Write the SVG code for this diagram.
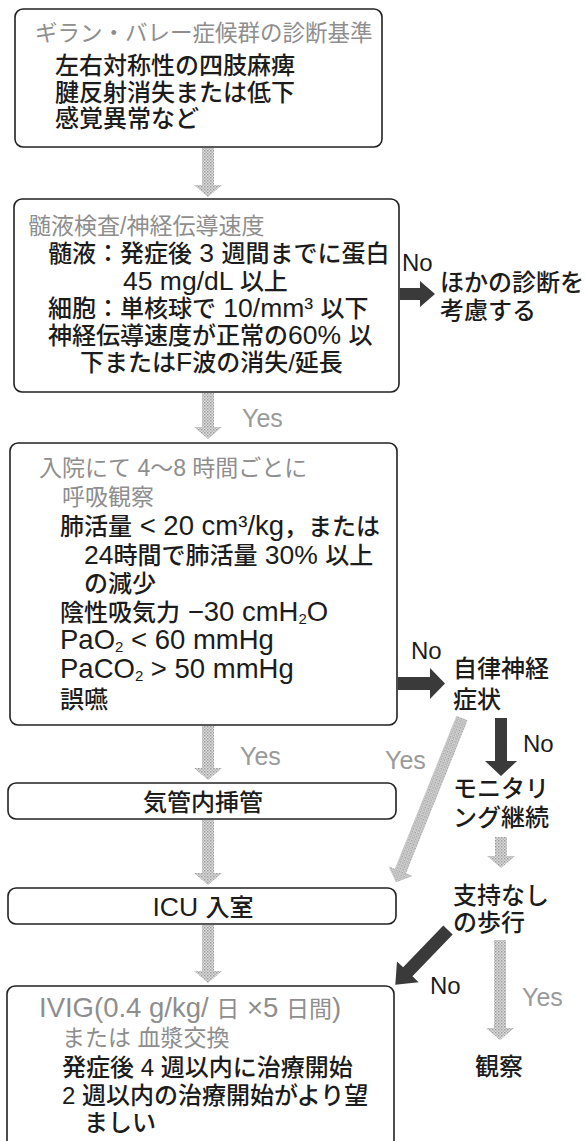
<svg xmlns="http://www.w3.org/2000/svg" width="586" height="1141" viewBox="0 0 586 1141">
<style>
text{font-family:"Liberation Sans","Noto Sans CJK JP",sans-serif;font-size:24px;fill:#1c1c1c;font-weight:500}
.t{fill:#8e8e8e;font-size:23px;font-weight:400}
.y{fill:#9a9a9a;font-family:"Liberation Sans",sans-serif;font-size:25px;font-weight:400}
.n{font-family:"Liberation Sans",sans-serif;font-size:24px}
.L{font-size:27.5px}
.M{font-size:26.5px}
.s{font-size:15px}
.box{fill:#fff;stroke:#222;stroke-width:1.6}
.g{fill:url(#hatch)}
.d{fill:#3a3a3a}
</style>
<defs>
<pattern id="hatch" width="3" height="3" patternUnits="userSpaceOnUse">
<rect width="3" height="3" fill="#dcdcdc"/>
<rect width="1.5" height="1.5" fill="#9c9c9c"/>
<rect x="1.5" y="1.5" width="1.5" height="1.5" fill="#b4b4b4"/>
</pattern>
</defs>
<rect width="586" height="1141" fill="#fff"/>

<g id="connectors">
<polygon class="g" points="202,148 214,148 214,185 222,185 208,197 194,185 202,185"/>
<polygon class="g" points="202,393 214,393 214,427 222,427 208,439 194,427 202,427"/>
<polygon class="g" points="202,726 214,726 214,768 222,768 208,780 194,768 202,768"/>
<polygon class="g" points="202,820 214,820 214,873 222,873 208,885 194,873 202,873"/>
<polygon class="g" points="202,925 214,925 214,971 222,971 208,983 194,971 202,971"/>
<polygon class="g" points="495,837 507,837 507,856 515,856 501,868 487,856 495,856"/>
<polygon class="g" points="494,940 506,940 506,1028 514,1028 500,1040 486,1028 494,1028"/>
<polygon class="g" transform="translate(462,718) rotate(111.9)" points="0,-6 165,-6 165,-13 177,0 165,13 165,6 0,6"/>
<polygon class="d" points="400,288 420,288 420,281 435,294 420,307 420,300 400,300"/>
<polygon class="d" points="398,677 430,677 430,668 445,683.5 430,699 430,690 398,690"/>
<polygon class="d" points="495,718 507,718 507,761 517,761 501,776 485,761 495,761"/>
<polygon class="d" transform="translate(448,930) rotate(133.9)" points="0,-6.5 58,-6.5 58,-15 76,0 58,15 58,6.5 0,6.5"/>
<text class="y" x="242" y="427">Yes</text>
<text class="y" x="240" y="765">Yes</text>
<text class="y" x="385" y="769">Yes</text>
<text class="y" x="522" y="1006">Yes</text>
<text class="n" x="402" y="271">No</text>
<text class="n" x="411" y="659">No</text>
<text class="n" x="523" y="752">No</text>
<text class="n" x="430" y="994">No</text>
</g>

<g id="criteria">
<rect class="box" x="15" y="9" width="367" height="138" rx="8"/>
<text class="t" x="35" y="41" style="font-size:22.5px">ギラン・バレー症候群の診断基準</text>
<text x="55" y="74">左右対称性の四肢麻痺</text>
<text x="55" y="101">腱反射消失または低下</text>
<text x="55" y="127">感覚異常など</text>
</g>

<g id="csf">
<rect class="box" x="14" y="199" width="385" height="193" rx="8"/>
<text class="t" x="28" y="234">髄液検査/神経伝導速度</text>
<text x="48" y="262">髄液：発症後<tspan class="M"> 3 </tspan>週間までに蛋白</text>
<text x="123" y="290"><tspan class="M">45 mg/dL </tspan>以上</text>
<text x="48" y="317">細胞：単核球で<tspan class="M"> 10/mm³ </tspan>以下</text>
<text x="48" y="344">神経伝導速度が正常の<tspan class="M">60% </tspan>以</text>
<text x="80" y="371">下または<tspan class="M">F</tspan>波の消失/延長</text>
</g>

<g id="other">
<text x="440" y="291">ほかの診断を</text>
<text x="440" y="319">考慮する</text>
</g>

<g id="resp">
<rect class="box" x="10" y="443" width="387" height="282" rx="8"/>
<text class="t" x="39" y="476">入院にて 4〜8 時間ごとに</text>
<text class="t" x="62" y="505">呼吸観察</text>
<text x="60" y="535">肺活量<tspan class="L"> &lt; 20 cm³/kg</tspan>，または</text>
<text x="84" y="564"><tspan class="M">24</tspan>時間で肺活量<tspan class="M"> 30% </tspan>以上</text>
<text x="84" y="592">の減少</text>
<text x="60" y="621">陰性吸気力<tspan class="L"> −30 cmH</tspan><tspan class="s" dy="3">2</tspan><tspan class="L" dy="-3">O</tspan></text>
<text x="60" y="649"><tspan class="L">PaO</tspan><tspan class="s" dy="3">2</tspan><tspan class="L" dy="-3"> &lt; 60 mmHg</tspan></text>
<text x="60" y="678"><tspan class="L">PaCO</tspan><tspan class="s" dy="3">2</tspan><tspan class="L" dy="-3"> &gt; 50 mmHg</tspan></text>
<text x="60" y="708">誤嚥</text>
</g>

<g id="autonomic">
<text x="453" y="677">自律神経</text>
<text x="453" y="708">症状</text>
</g>

<g id="intubation">
<rect class="box" x="8" y="783" width="388" height="36" rx="8"/>
<text x="203" y="811" text-anchor="middle">気管内挿管</text>
</g>

<g id="monitor">
<text x="453" y="797">モニタリ</text>
<text x="453" y="826">ング継続</text>
</g>

<g id="icu">
<rect class="box" x="8" y="888" width="388" height="36" rx="8"/>
<text x="203" y="916" text-anchor="middle"><tspan class="M">ICU </tspan>入室</text>
</g>

<g id="walk">
<text x="453" y="904">支持なし</text>
<text x="453" y="931">の歩行</text>
</g>

<g id="ivig">
<rect class="box" x="7" y="986" width="387" height="175" rx="8"/>
<text class="t" x="39" y="1017"><tspan class="L">IVIG(0.4 g/kg/ </tspan>日<tspan class="L"> ×5 </tspan>日間<tspan class="L">)</tspan></text>
<text class="t" x="62" y="1046">または 血漿交換</text>
<text x="62" y="1076">発症後 4 週以内に治療開始</text>
<text x="62" y="1104">2 週以内の治療開始がより望</text>
<text x="84" y="1131">ましい</text>
</g>

<g id="observe">
<text x="475" y="1075">観察</text>
</g>
</svg>
